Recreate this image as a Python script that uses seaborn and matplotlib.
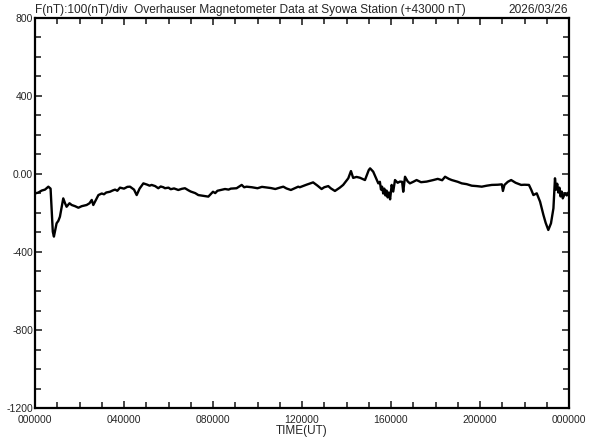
import numpy as np
import pandas as pd
import matplotlib
matplotlib.use("Agg")
import matplotlib.pyplot as plt
from matplotlib.ticker import MultipleLocator, FixedLocator
import seaborn as sns

# F(nT) deviation from 43000 nT (hours UT)
hours = [0.0, 0.15, 0.3, 0.45, 0.6, 0.7, 0.8, 0.85, 0.92, 0.97, 1.05, 1.12, 1.2, 1.27,
         1.35, 1.42, 1.55, 1.65, 1.8, 1.95, 2.1, 2.32, 2.45, 2.55, 2.62, 2.75, 2.85, 3.0,
         3.1, 3.2, 3.37, 3.5, 3.6, 3.7, 3.82, 4.0, 4.15, 4.27, 4.45, 4.57, 4.7, 4.87, 5.05,
         5.15, 5.24, 5.4, 5.54, 5.65, 5.77, 5.84, 6.0, 6.1, 6.25, 6.44, 6.6, 6.74, 6.9,
         7.0, 7.2, 7.34, 7.55, 7.79, 8.0, 8.1, 8.2, 8.35, 8.54, 8.7, 8.8, 9.06, 9.29,
         9.4, 9.51, 9.75, 10.0, 10.2, 10.34, 10.6, 10.8, 11.0, 11.16, 11.3, 11.5, 11.83,
         11.9, 12.2, 12.5, 12.7, 12.88, 13.0, 13.18, 13.3, 13.48, 13.7, 13.85, 14.08,
         14.2, 14.3, 14.45, 14.6, 14.83, 15.0, 15.06, 15.2, 15.43, 15.5, 15.55, 15.6,
         15.65, 15.7, 15.75, 15.8, 15.85, 15.9, 15.96, 16.03, 16.1, 16.18, 16.3, 16.4,
         16.5, 16.55, 16.63, 16.75, 16.85, 17.0, 17.15, 17.35, 17.6, 17.9, 18.1, 18.3,
         18.43, 18.6, 18.73, 19.0, 19.18, 19.4, 19.63, 19.85, 20.08, 20.3, 20.53, 20.8,
         20.98, 21.03, 21.1, 21.25, 21.4, 21.6, 21.85, 22.0, 22.2, 22.3, 22.4, 22.55,
         22.7, 22.85, 22.95, 23.07, 23.19, 23.3, 23.37, 23.42, 23.47, 23.52, 23.57,
         23.62, 23.67, 23.72, 23.82, 23.9, 24.0]
f_nt = [-100, -95, -85, -80, -65, -75, -296, -321, -280, -253, -240, -219, -170, -125,
        -150, -168, -150, -159, -165, -173, -165, -159, -150, -133, -159, -130, -108, -100,
        -104, -95, -91, -84, -80, -86, -70, -75, -66, -65, -80, -108, -75, -48, -55,
        -60, -56, -62, -73, -64, -68, -73, -70, -78, -74, -82, -76, -73, -84,
        -90, -98, -108, -112, -116, -91, -98, -86, -82, -77, -80, -75, -73, -56,
        -68, -65, -68, -73, -66, -68, -72, -77, -70, -65, -74, -82, -65,
        -68, -55, -43, -60, -77, -68, -62, -74, -87, -70, -56, -22,
        15, -20, -15, -19, -31, 20, 29, 12, -48, -40, -80, -65,
        -100, -75, -110, -85, -120, -95, -130, -56, -90, -31, -45, -39,
        -40, -91, -14, -38, -48, -40, -31, -42, -39, -31, -25, -32,
        -14, -25, -31, -40, -48, -52, -60, -62, -65, -60, -56, -55,
        -53, -87, -56, -40, -31, -45, -56, -55, -56, -80, -108, -99,
        -142, -210, -250, -287, -253, -176, -22, -80, -50, -95, -70,
        -115, -90, -125, -99, -110, -91]

xtick_pos = [0, 4, 8, 12, 16, 20, 24]
xtick_labels = ["000000", "040000", "080000", "120000", "160000", "200000", "000000"]
ytick_pos = [800, 400, 0, -400, -800, -1200]
ytick_labels = ["800", "400", "0.00", "-400", "-800", "-1200"]

title = "F(nT):100(nT)/div  Overhauser Magnetometer Data at Syowa Station (+43000 nT)"
date_str = "2026/03/26"

sns.set_style("ticks")
plt.rcParams['font.family'] = ['Liberation Sans', 'DejaVu Sans']

df = pd.DataFrame({"hour": hours, "F": f_nt})

fig = plt.figure(figsize=(5.92, 4.40), dpi=100)
ax = fig.add_axes([35 / 592, 1 - 408 / 440, 534 / 592, 390 / 440])

sns.lineplot(data=df, x="hour", y="F", ax=ax, color="black", linewidth=1.7,
             estimator=None, sort=False)

ax.set_xlim(0, 24)
ax.set_ylim(-1200, 800)
ax.xaxis.set_major_locator(FixedLocator(xtick_pos))
ax.xaxis.set_minor_locator(MultipleLocator(1))
ax.yaxis.set_major_locator(FixedLocator(ytick_pos))
ax.yaxis.set_minor_locator(MultipleLocator(100))
ax.set_xticklabels(xtick_labels)
ax.set_yticklabels(ytick_labels)

ax.tick_params(which="both", direction="in", top=True, right=True,
               labelsize=7.5, width=1.2)
ax.tick_params(axis="y", pad=1.5)
ax.tick_params(axis="x", pad=5)
ax.tick_params(which="major", length=5)
ax.tick_params(which="minor", length=4)
for s in ax.spines.values():
    s.set_linewidth(1.6)
    s.set_color("black")

ax.set_xlabel("TIME(UT)", fontsize=8.5, labelpad=0)
ax.set_ylabel("")

ax.text(0.0, 1.006, title, transform=ax.transAxes, ha="left", va="bottom", fontsize=8.6)
ax.text(0.998, 1.006, date_str, transform=ax.transAxes, ha="right", va="bottom", fontsize=8.6)

fig.savefig("out.png", dpi=100)
